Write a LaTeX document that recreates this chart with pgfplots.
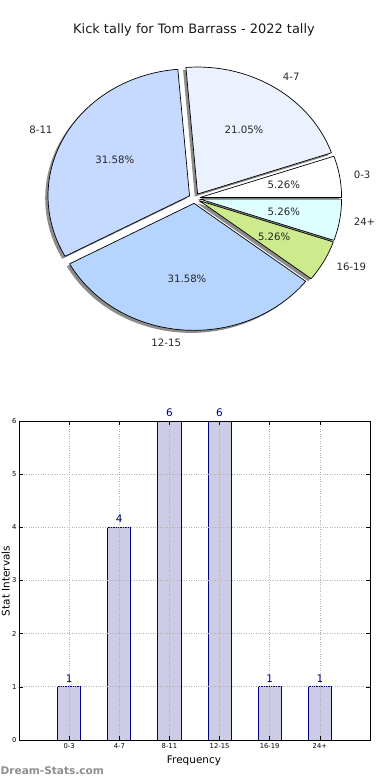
\documentclass[border=0pt]{standalone}
\usepackage{fontspec}
\setmainfont{DejaVu Sans}
\usepackage{pgfplots}
\usepackage{pgfplotstable}
\pgfplotsset{compat=1.18}

\definecolor{c03}{HTML}{FFFFFF}
\definecolor{c47}{HTML}{EBF2FE}
\definecolor{c811}{HTML}{C6D9FE}
\definecolor{c1215}{HTML}{B5D5FE}
\definecolor{c1619}{HTML}{CDEA8C}
\definecolor{c24}{HTML}{DDFFFF}
\definecolor{shadowc}{HTML}{8C8C8C}
\definecolor{barfill}{HTML}{CCCCE6}
\definecolor{navyc}{HTML}{000080}
\definecolor{wm}{HTML}{8E8E8E}

\pgfplotstableread{
x label count
0 0-3 1
1 4-7 4
2 8-11 6
3 12-15 6
4 16-19 1
5 24+ 1
}\bardata

\def\cx{194.5}\def\cy{581.7}\def\rx{141.5}\def\ry{127}\def\expl{0.04}\def\total{19}

\tikzset{pielab/.style={font=\fontsize{10.2}{12}\selectfont, text=black!85, inner sep=0pt}}

\newcommand\piecalc[2]{%
  \pgfmathsetmacro\aS{360*#1/\total}%
  \pgfmathsetmacro\aE{360*(#1+#2)/\total}%
  \pgfmathsetmacro\aM{(\aS+\aE)/2}%
  \pgfmathsetmacro\pcx{\cx+\expl*\rx*cos(\aM)}%
  \pgfmathsetmacro\pcy{\cy+\expl*\ry*sin(\aM)}%
}
\newcommand\pieshadow[2]{%
  \piecalc{#1}{#2}%
  \pgfmathsetmacro\scx{\pcx-2.8}%
  \pgfmathsetmacro\scy{\pcy-2.5}%
  \edef\doit{\noexpand\addplot[draw=none,fill=shadowc,domain=\aS:\aE,samples=90] ({\scx+\rx*cos(x)},{\scy+\ry*sin(x)}) -- (axis cs:\scx,\scy) -- cycle;}%
  \doit}
\newcommand\pieslice[5]{%
  \piecalc{#1}{#2}%
  \pgfmathsetmacro\lx{\pcx+1.1*\rx*cos(\aM)}%
  \pgfmathsetmacro\ly{\pcy+1.1*\ry*sin(\aM)}%
  \pgfmathsetmacro\tx{\pcx+0.6*\rx*cos(\aM)}%
  \pgfmathsetmacro\ty{\pcy+0.6*\ry*sin(\aM)}%
  \pgfmathsetmacro\cm{cos(\aM)}%
  \ifdim\cm pt>0pt \def\anch{west}\else\def\anch{east}\fi
  \edef\doit{\noexpand\addplot[draw=black,line width=0.7pt,line join=round,fill=#3,domain=\aS:\aE,samples=90] ({\pcx+\rx*cos(x)},{\pcy+\ry*sin(x)}) -- (axis cs:\pcx,\pcy) -- cycle;
    \noexpand\node[pielab,anchor=\anch] at (axis cs:\lx,\ly) {#4};
    \noexpand\node[pielab] at (axis cs:\tx,\ty) {#5\noexpand\%};}%
  \doit}

\begin{document}
\begin{tikzpicture}
\useasboundingbox (0,0) rectangle (390bp,780bp);
% canvas axis holding the pie and the texts
\begin{axis}[at={(0,0)}, anchor=south west, scale only axis,
  width=390bp, height=780bp, xmin=0, xmax=390, ymin=0, ymax=780,
  hide axis, clip=false]
\pieshadow{0}{1}
\pieshadow{1}{4}
\pieshadow{5}{6}
\pieshadow{11}{6}
\pieshadow{17}{1}
\pieshadow{18}{1}
\pieslice{0}{1}{c03}{0-3}{5.26}
\pieslice{1}{4}{c47}{4-7}{21.05}
\pieslice{5}{6}{c811}{8-11}{31.58}
\pieslice{11}{6}{c1215}{12-15}{31.58}
\pieslice{17}{1}{c1619}{16-19}{5.26}
\pieslice{18}{1}{c24}{24+}{5.26}
\node[font=\fontsize{13}{15}\selectfont, text=black!90] at (axis cs:194,750) {Kick tally for Tom Barrass - 2022 tally};
\node[font=\fontsize{10.5}{12}\selectfont, rotate=90] at (axis cs:5.8,199) {Stat Intervals};
\node[font=\fontsize{10.5}{12}\selectfont] at (axis cs:194,19.5) {Frequency};
\node[font=\bfseries\fontsize{10.6}{12}\selectfont, text=wm, anchor=west, inner sep=0pt] at (axis cs:0.5,9.5) {Dream-Stats.com};
\end{axis}
% bar chart
\begin{axis}[at={(19bp,40bp)}, anchor=south west, scale only axis,
  width=351bp, height=319bp,
  xmin=-1, xmax=6, ymin=0, ymax=6,
  xtick={0,...,5}, xticklabels from table={\bardata}{label},
  ytick={0,...,6},
  grid=major, grid style={dotted, gray!60, line width=0.7pt},
  axis on top, clip=false,
  axis line style={line width=0.8pt},
  tick style={black, line width=0.5pt}, major tick length=4bp,
  tick label style={font=\fontsize{6.8}{7}\selectfont},
  yticklabel style={xshift=1bp},
  /pgf/number format/assume math mode=true,
  nodes near coords,
  nodes near coords style={font=\fontsize{10.5}{12}\selectfont, text=navyc, yshift=1bp},
]
\addplot[ybar, bar width=0.46, fill=barfill, draw=navyc, line width=0.8pt]
  table[x=x, y=count]{\bardata};
\end{axis}
\end{tikzpicture}
\end{document}
